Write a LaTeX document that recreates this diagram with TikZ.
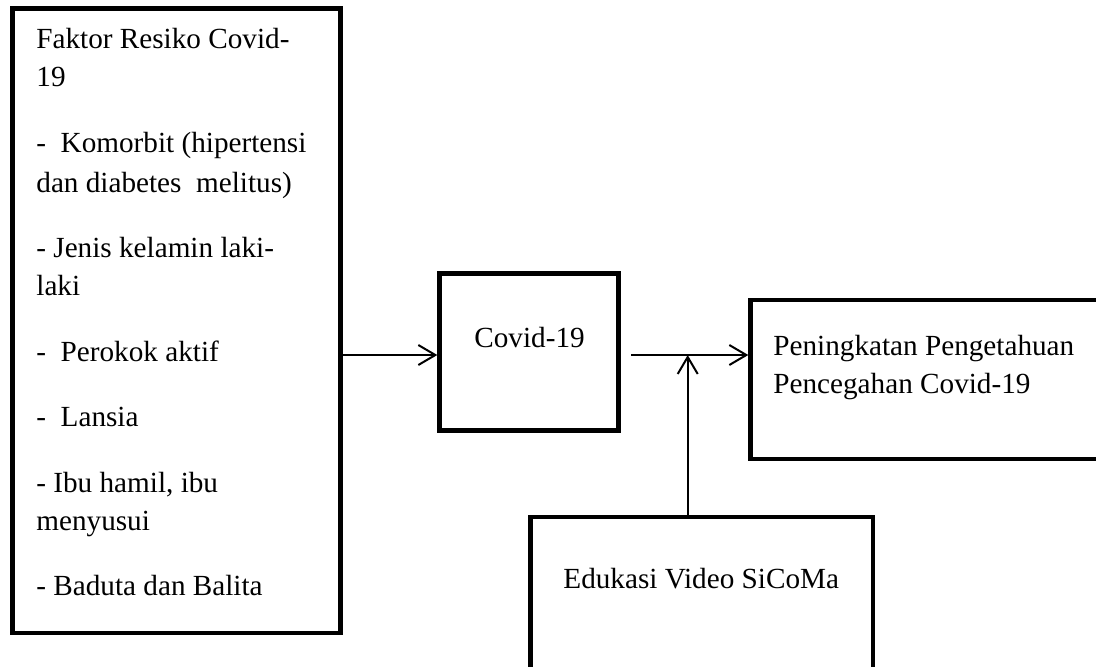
\documentclass[tikz,border=0pt]{standalone}
\usepackage{fontspec}
\setmainfont{Liberation Serif}
\usetikzlibrary{arrows.meta}
\begin{document}
\begin{tikzpicture}[x=0.5pt,y=-0.5pt,
  box/.style={draw=black,line width=2.2pt,rectangle,inner sep=0pt},
  txt/.style={anchor=base west,inner sep=0pt,font=\fontsize{14.6pt}{19pt}\selectfont},
  arr/.style={line width=1pt,-{Straight Barb[length=8.5pt,width=10pt,line width=1pt]}}]
\useasboundingbox (0,0) rectangle (1096,666);
\clip (0,0) rectangle (1096,666);
% boxes
\node[box,minimum width=164pt,minimum height=312.25pt] (left) at (176.5,320.75) {};
\node[box,minimum width=89.5pt,minimum height=78.5pt] (covid) at (529,352) {};
\node[box,minimum width=184.75pt,minimum height=79.5pt] (right) at (935.25,379.5) {};
\node[box,minimum width=171.25pt,minimum height=91.5pt] (bottom) at (701.75,608.5) {};
% texts in left box
\node[txt] (t1) at (36,48) {Faktor Resiko Covid-};
\node[txt] (t2) at (36,86) {19};
\node[txt] (t3) at (36,152) {-\ \ Komorbit (hipertensi};
\node[txt] (t4) at (36,192) {dan diabetes\ \ melitus)};
\node[txt] (t5) at (36,257) {- Jenis kelamin laki-};
\node[txt] (t6) at (36,295) {laki};
\node[txt] (t7) at (36,361) {-\ \ Perokok aktif};
\node[txt] (t8) at (36,426) {-\ \ Lansia};
\node[txt] (t9) at (36,492) {- Ibu hamil, ibu};
\node[txt] (t10) at (36,530) {menyusui};
\node[txt] (t11) at (36,595) {- Baduta dan Balita};
% other texts
\node[txt] (tc) at (474,347) {Covid-19};
\node[txt] (tr1) at (773,355) {Peningkatan Pengetahuan};
\node[txt] (tr2) at (773,393) {Pencegahan Covid-19};
\node[txt] (tb) at (563,588) {Edukasi Video SiCoMa};
% connectors
\coordinate (a1) at (341,355);
\coordinate (a2) at (631,355);
\coordinate (j) at (687.7,355);
\draw[arr] (a1) -- (a1 -| covid.west);
\draw[arr] (a2) -- (a2 -| right.west);
\draw[arr] (j |- bottom.north) -- (j);
\end{tikzpicture}
\end{document}
